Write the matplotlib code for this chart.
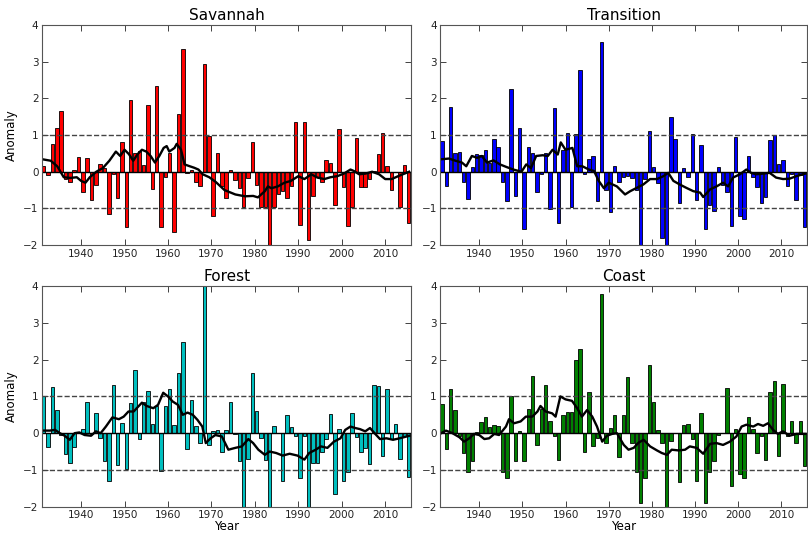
import matplotlib
matplotlib.use("Agg")
import matplotlib.pyplot as plt

# Years shown on every panel
years = list(range(1931, 2016))

# Annual anomalies (bars), 1931-2015
savannah = [0.15, -0.1, 0.75, 1.2, 1.65, -0.2, -0.27, 0.05, 0.4, -0.55,
            0.38, -0.78, -0.35, 0.2, 0.1, -1.15, -0.07, -0.72, 0.82, -1.52,
            1.95, 0.5, 0.57, 0.18, 1.82, -0.46, 2.33, -1.5, -0.15, 0.5,
            -1.65, 1.57, 3.35, -0.03, 0.05, -0.27, -0.38, 2.93, 0.97, -1.2,
            0.5, -0.4, -0.72, 0.05, -0.22, -0.45, -0.95, -0.18, 0.82, -0.35,
            -0.95, -0.97, -2.0, -0.97, -0.61, -0.52, -0.72, -0.38, 1.37, -1.45,
            1.37, -1.85, -0.65, -0.15, -0.29, 0.33, 0.25, -0.9, 1.17, -0.43,
            -1.47, -0.95, 0.92, -0.43, -0.41, -0.2, 0.03, 0.48, 1.07, 0.15,
            -0.5, 0.0, -0.95, 0.19, -1.4]
transition = [0.85, -0.4, 1.77, 0.5, 0.55, -0.27, -0.75, 0.13, 0.48, 0.45,
              0.58, 0.25, 0.88, 0.68, -0.27, -0.8, 2.25, -0.67, 1.2, -1.55,
              0.68, 0.5, -0.55, -0.05, 0.5, -1.03, 1.75, -1.4, 0.6, 1.05,
              -0.97, 1.02, 2.77, -0.05, 0.35, 0.43, -0.8, 3.55, -0.5, -1.1,
              0.15, -0.27, -0.15, -0.12, -0.17, -0.5, -2.0, -0.2, 1.1, 0.12,
              -0.3, -1.8, -2.0, 1.5, 0.9, -0.85, 0.1, -0.15, 1.03, -0.78,
              0.72, -1.57, -0.9, -1.07, 0.12, -0.35, -0.55, -1.48, 0.95, -1.2,
              -1.3, 0.43, -0.15, -0.42, -0.85, -0.7, 0.87, 1.0, 0.22, 0.33,
              -0.4, -0.05, -0.76, -0.1, -1.5]
forest = [1.02, -0.38, 1.27, 0.63, -0.05, -0.57, -0.8, -0.38, 0.0, 0.1,
          0.85, -0.03, 0.55, -0.13, -0.75, -1.3, 1.3, -0.87, 0.28, -0.97,
          0.82, 1.72, -0.17, 0.84, 1.16, 0.26, 0.73, -1.03, 0.73, 1.2,
          0.22, 1.63, 2.48, -0.42, 0.91, 0.2, -0.26, 4.0, -0.31, 0.05,
          0.08, -0.52, 0.08, 0.85, -0.03, -0.75, -2.0, -0.7, 1.63, 0.6,
          -0.13, -0.72, -2.0, 0.2, 0.0, -1.3, 0.5, 0.17, -0.08, -1.23,
          -0.08, -2.0, -0.8, -0.8, -0.5, -0.17, 0.53, -1.65, 0.1, -1.3,
          -1.05, 0.55, -0.1, -0.52, -0.4, -0.85, 1.3, 1.28, -0.62, 1.2,
          -0.15, 0.26, -0.69, -0.08, -1.2]
coast = [0.8, -0.43, 1.2, 0.62, -0.08, -0.53, -1.05, -0.75, 0.02, 0.3,
         0.43, 0.18, 0.22, 0.2, -1.07, -1.23, 1.0, -0.77, 0.05, -0.75,
         0.66, 1.56, -0.33, 0.66, 1.3, 0.33, -0.08, -0.73, 0.5, 0.57,
         0.57, 2.0, 2.28, -0.5, 1.13, -0.35, -0.12, 3.78, -0.26, 0.13,
         0.5, -0.65, 0.5, 1.53, -0.26, -1.05, -1.9, -1.22, 1.85, 0.85,
         0.08, -0.28, -2.0, -0.22, 0.0, -1.33, 0.23, 0.26, -0.15, -1.3,
         0.55, -1.9, -1.05, -0.76, -0.05, 0.0, 1.22, -1.43, 0.1, -1.1,
         -1.23, 0.43, 0.1, -0.53, -0.08, -0.73, 1.13, 1.42, -0.62, 1.33,
         -0.08, 0.34, -0.27, 0.33, -0.9]

# Smoothed curves (black lines)
sav_line_x = [1931.1, 1933, 1934.5, 1936, 1937.5, 1939, 1940, 1941, 1942, 1943.5,
              1945, 1946.5, 1948, 1949, 1950, 1951, 1952, 1953, 1954, 1955,
              1956, 1957, 1958, 1959, 1959.7, 1960.3, 1961.5, 1962, 1963, 1963.8,
              1965, 1966, 1967, 1968, 1969.5, 1971, 1973, 1975.5, 1977.7, 1979.6,
              1980.7, 1982.3, 1983, 1983.8, 1985.3, 1986.8, 1988.3, 1990, 1991.4, 1993,
              1994.4, 1996, 1997.4, 1999, 2000.5, 2002, 2002.8, 2004, 2005.5, 2007,
              2008.6, 2010, 2011.5, 2013, 2015.5]
sav_line_y = [0.34, 0.3, 0.15, -0.15, -0.17, -0.15, -0.25, -0.3, -0.15, 0.0,
              0.1, 0.3, 0.55, 0.43, 0.6, 0.48, 0.3, 0.48, 0.6, 0.55,
              0.43, 0.25, 0.43, 0.65, 0.7, 0.55, 0.65, 0.76, 0.6, 0.2,
              0.15, 0.11, 0.06, -0.07, -0.15, -0.28, -0.5, -0.62, -0.67, -0.66,
              -0.7, -0.53, -0.4, -0.45, -0.4, -0.3, -0.25, -0.12, -0.2, -0.07,
              -0.16, -0.2, -0.15, -0.12, -0.05, 0.06, 0.02, -0.07, -0.05, 0.0,
              -0.07, -0.2, -0.2, -0.12, 0.0]

tr_line_x = [1931.2, 1933, 1934.5, 1936, 1937, 1938.3, 1939.5, 1940.6, 1941.8, 1943.3,
             1944.8, 1946.3, 1947.9, 1949.8, 1950.9, 1952, 1953.2, 1954.7, 1955.9, 1957,
             1958.2, 1958.9, 1960, 1961.6, 1962.7, 1963.9, 1965.4, 1966.6, 1967.7, 1968.9,
             1970, 1971.9, 1973.8, 1975, 1976.5, 1978, 1979.6, 1981.2, 1982.7, 1983.8,
             1985, 1986.5, 1988, 1989.6, 1991.2, 1991.9, 1993.5, 1995, 1996.5, 1997.7,
             1998.8, 2000.4, 2001.9, 2003, 2004.2, 2005.8, 2007.3, 2008.8, 2010.4, 2011.9,
             2013.5, 2015.6]
tr_line_y = [0.34, 0.36, 0.3, 0.25, 0.15, 0.43, 0.38, 0.43, 0.25, 0.31,
             0.2, 0.13, 0.06, 0.0, 0.2, 0.1, 0.43, 0.45, 0.43, 0.6,
             0.47, 0.8, 0.6, 0.65, 0.15, 0.15, 0.06, 0.02, -0.25, -0.45,
             -0.3, -0.4, -0.62, -0.53, -0.44, -0.35, -0.2, -0.2, -0.12, -0.03,
             -0.25, -0.35, -0.44, -0.53, -0.57, -0.69, -0.48, -0.4, -0.3, -0.4,
             -0.16, -0.07, 0.06, -0.03, -0.07, -0.05, -0.03, -0.16, -0.2, -0.19,
             -0.12, -0.05]

fo_line_x = [1931.1, 1932.8, 1934, 1935.1, 1936.2, 1937.4, 1938.5, 1939.6, 1940.8, 1942.3,
             1943.4, 1944.5, 1945.7, 1947.2, 1948.7, 1949.8, 1950.9, 1952.1, 1952.8, 1954,
             1955.1, 1956.6, 1957.7, 1958.9, 1960, 1961.1, 1962.3, 1963.4, 1964.5, 1965.7,
             1966.8, 1967.9, 1968.7, 1969.8, 1970.9, 1972.4, 1973.9, 1975.5, 1977, 1978.5,
             1979.6, 1980.8, 1982.3, 1983.4, 1984.9, 1986.4, 1988, 1989.8, 1991.4, 1992.5,
             1994, 1995.2, 1996.7, 1998.2, 1999.7, 2000.8, 2002, 2003.1, 2004.2, 2005.4,
             2006.5, 2007.7, 2008.8, 2010.3, 2011.8, 2013.3, 2015.6]
fo_line_y = [0.07, 0.07, 0.09, 0.0, -0.07, -0.18, 0.0, 0.02, -0.05, -0.07,
             0.05, 0.0, 0.18, 0.43, 0.38, 0.45, 0.59, 0.59, 0.68, 0.83,
             0.74, 0.68, 0.77, 1.1, 1.0, 0.86, 0.77, 0.5, 0.56, 0.5,
             0.36, 0.18, -0.27, -0.14, -0.05, -0.09, -0.45, -0.4, -0.36, -0.16,
             -0.27, -0.45, -0.59, -0.5, -0.54, -0.61, -0.56, -0.61, -0.72, -0.54,
             -0.45, -0.36, -0.4, -0.23, -0.14, 0.09, 0.18, 0.14, 0.11, 0.05,
             0.14, -0.02, -0.16, -0.14, -0.18, -0.14, -0.07]

co_line_x = [1931.2, 1932.3, 1933.8, 1935.4, 1936.5, 1937.7, 1938.8, 1940, 1941.2, 1942.3,
             1943.5, 1944.6, 1946.2, 1946.9, 1948.1, 1949.6, 1950.8, 1952.3, 1953.5, 1954.2,
             1955.4, 1956.9, 1957.7, 1958.8, 1960, 1961.5, 1962.7, 1963.8, 1965, 1966.2,
             1967.3, 1968.5, 1969.6, 1970.8, 1971.9, 1973.5, 1974.6, 1975.8, 1976.9, 1978.1,
             1979.6, 1981.2, 1982.3, 1983.5, 1984.6, 1986.2, 1987.7, 1988.8, 1990.4, 1991.9,
             1993.5, 1995, 1996.5, 1998.1, 1999.6, 2000.8, 2001.9, 2003.5, 2004.6, 2005.8,
             2006.9, 2008.1, 2009.2, 2010.4, 2011.9, 2013.5, 2015.6]
co_line_y = [0.0, 0.07, 0.0, -0.11, -0.23, -0.14, -0.02, -0.05, -0.16, -0.14,
             -0.02, -0.05, 0.18, 0.38, 0.27, 0.32, 0.45, 0.45, 0.59, 0.74,
             0.59, 0.54, 0.45, 1.0, 0.92, 0.88, 0.68, 0.45, 0.63, 0.45,
             0.18, -0.23, -0.07, -0.02, 0.0, -0.32, -0.45, -0.4, -0.26, -0.18,
             -0.36, -0.47, -0.54, -0.59, -0.45, -0.47, -0.45, -0.36, -0.4, -0.56,
             -0.29, -0.27, -0.32, -0.23, -0.09, 0.18, 0.23, 0.18, 0.25, 0.2,
             0.27, 0.09, -0.02, 0.05, -0.07, -0.02, -0.02]

panels = [
    ("Savannah", savannah, "#ff0000", sav_line_x, sav_line_y),
    ("Transition", transition, "#0000ff", tr_line_x, tr_line_y),
    ("Forest", forest, "#00bfbf", fo_line_x, fo_line_y),
    ("Coast", coast, "#008000", co_line_x, co_line_y),
]

# axes boxes in figure fractions (left, bottom, width, height)
boxes = [
    [0.052, 0.542, 0.457, 0.411],
    [0.545, 0.542, 0.454, 0.411],
    [0.052, 0.053, 0.457, 0.412],
    [0.545, 0.053, 0.454, 0.412],
]

fig = plt.figure(figsize=(8.08, 5.35), dpi=100)

for i, (name, vals, color, lx, ly) in enumerate(panels):
    ax = fig.add_axes(boxes[i])
    ax.bar(years, vals, width=0.8, align="edge", color=color,
           edgecolor="black", linewidth=0.6)
    ax.axhline(0, color="black", lw=1)
    ax.axhline(1, color="#444444", ls="--", lw=1)
    ax.axhline(-1, color="#444444", ls="--", lw=1)
    ax.plot(lx, ly, color="black", lw=1.7)
    ax.set_xlim(1931, 2016)
    ax.set_ylim(-2, 4)
    ax.set_xticks(range(1940, 2011, 10))
    ax.set_yticks(range(-2, 5))
    ax.tick_params(direction="in", top=True, right=True, labelsize=7.5,
                   length=4, width=0.6, colors="#222222", pad=2.5)
    for s in ax.spines.values():
        s.set_linewidth(0.8)
        s.set_color("#555555")
    ax.set_title(name, fontsize=11, pad=4)
    if i % 2 == 0:
        ax.set_ylabel("Anomaly", fontsize=8.5, labelpad=4)
    if i >= 2:
        ax.set_xlabel("Year", fontsize=8.5, labelpad=0)

plt.savefig("out.png", dpi=100)
